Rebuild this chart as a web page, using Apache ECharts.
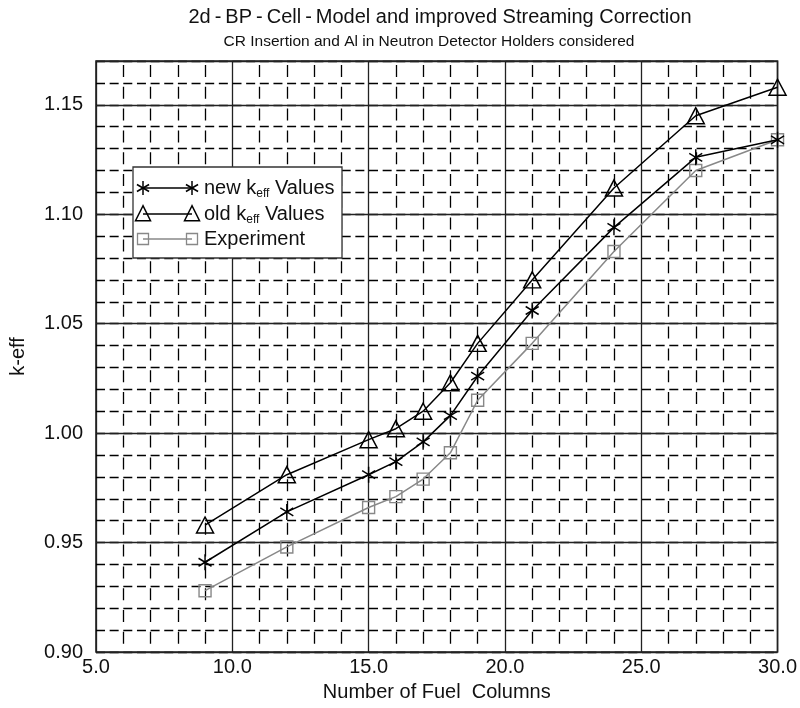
<!DOCTYPE html>
<html>
<head>
<meta charset="utf-8">
<script src="https://cdn.jsdelivr.net/npm/echarts@6/dist/echarts.min.js"></script>
<style>
html,body{margin:0;padding:0;background:#fff;}
#c{width:800px;height:708px;}
</style>
</head>
<body>
<div id="c"></div>
<script>
// ---- data ----
var fuelColumns = [9, 12, 15, 16, 17, 18, 19, 21, 24, 27, 30];
var newKeff     = [0.941, 0.964, 0.981, 0.987, 0.996, 1.008, 1.026, 1.056, 1.094, 1.126, 1.134];
var oldKeff     = [0.958, 0.981, 0.997, 1.002, 1.010, 1.023, 1.041, 1.070, 1.112, 1.145, 1.158];
var experiment  = [0.928, 0.948, 0.966, 0.971, 0.979, 0.991, 1.015, 1.041, 1.083, 1.120, 1.134];
var xTicks = [5, 10, 15, 20, 25, 30];
var yTicks = [0.90, 0.95, 1.00, 1.05, 1.10, 1.15];

function pairs(xs, ys){ return xs.map(function(x,i){ return [x, ys[i]]; }); }

var FONT = '"Liberation Sans", Arial, Helvetica, sans-serif';
var ASTERISK = 'path://M0,-10L0,10M-8.66,-5L8.66,5M-8.66,5L8.66,-5';

function asteriskG(cx, cy, r){
  var c = [];
  [90, 30, -30].forEach(function(a){
    var rad = a*Math.PI/180, dx = r*Math.cos(rad), dy = r*Math.sin(rad);
    c.push({type:'line', shape:{x1:cx-dx, y1:cy-dy, x2:cx+dx, y2:cy+dy}, style:{stroke:'#000', lineWidth:1.5}, z:102});
  });
  return c;
}
function triG(cx, cy, s){
  return {type:'polygon', shape:{points:[[cx, cy-s*0.55],[cx-s/2, cy+s*0.45],[cx+s/2, cy+s*0.45]]}, style:{fill:'none', stroke:'#000', lineWidth:1.5}, z:102};
}
function sqG(cx, cy, s){
  return {type:'rect', shape:{x:cx-s/2, y:cy-s/2, width:s, height:s}, style:{fill:'none', stroke:'#888', lineWidth:1.3}, z:102};
}

var lx1 = 143, lx2 = 192, tx = 204;
var rows = [188, 214, 239];
var richSub = {a:{fontSize:20, fontFamily:FONT, fill:'#111'}, s:{fontSize:12, fontFamily:FONT, fill:'#111', padding:[12,0,0,0]}};
var legendEls = [
  {type:'rect', shape:{x:133, y:167, width:209, height:91}, style:{fill:'#fff', stroke:'#333', lineWidth:1.3}, z:100},
  {type:'line', shape:{x1:lx1, y1:rows[0], x2:lx2, y2:rows[0]}, style:{stroke:'#000', lineWidth:1.4}, z:101},
  {type:'line', shape:{x1:lx1, y1:rows[1], x2:lx2, y2:rows[1]}, style:{stroke:'#000', lineWidth:1.4}, z:101},
  {type:'line', shape:{x1:lx1, y1:rows[2], x2:lx2, y2:rows[2]}, style:{stroke:'#888', lineWidth:1.3}, z:101},
  triG(lx1, rows[1], 15), triG(lx2, rows[1], 15),
  sqG(lx1, rows[2], 11), sqG(lx2, rows[2], 11),
  {type:'text', x:tx, y:rows[0], style:{text:'{a|new k}{s|eff}{a| Values}', verticalAlign:'middle', rich:richSub}, z:101},
  {type:'text', x:tx, y:rows[1], style:{text:'{a|old k}{s|eff}{a| Values}', verticalAlign:'middle', rich:richSub}, z:101},
  {type:'text', x:tx, y:rows[2], style:{text:'Experiment', verticalAlign:'middle', fontSize:20, fontFamily:FONT, fill:'#111'}, z:101}
].concat(asteriskG(lx1, rows[0], 7)).concat(asteriskG(lx2, rows[0], 7));

var chart = echarts.init(document.getElementById('c'), null, {renderer:'canvas'});
chart.setOption({
  backgroundColor:'#fff',
  animation:false,
  textStyle:{fontFamily:FONT},
  grid:{left:96, right:21, top:61, bottom:56, show:true, borderColor:'#222', borderWidth:1.6, backgroundColor:'transparent'},
  graphic:[
    {type:'text', x:440, y:17, style:{text:'2d\u2009-\u2009BP\u2009-\u2009Cell\u2009-\u2009Model and improved Streaming Correction', align:'center', verticalAlign:'middle', fontSize:20, fontFamily:FONT, fill:'#111'}},
    {type:'text', x:429, y:42, style:{text:'CR Insertion and Al in Neutron Detector Holders considered', align:'center', verticalAlign:'middle', fontSize:15.5, fontFamily:FONT, fill:'#111'}}
  ].concat(legendEls),
  xAxis:{
    type:'value', min:5, max:30, interval:5,
    name:'Number of Fuel  Columns', nameLocation:'middle', nameGap:30,
    nameTextStyle:{fontSize:20, color:'#111', fontFamily:FONT},
    axisLine:{show:false}, axisTick:{show:false},
    axisLabel:{fontSize:20, color:'#111', margin:5, formatter:function(v){ return xTicks.indexOf(v)>=0 ? v.toFixed(1) : ''; }},
    splitLine:{show:true, lineStyle:{color:'#222', width:1.3, type:'solid'}},
    minorTick:{show:false, splitNumber:5},
    minorSplitLine:{show:true, lineStyle:{color:'#000', width:1.3, type:[12,9.8], dashOffset:17.8}}
  },
  yAxis:[
    {
      type:'value', min:0.90, max:1.17, interval:0.05,
      name:'k-eff', nameLocation:'middle', nameGap:68, nameRotate:90,
      nameTextStyle:{fontSize:20, color:'#111', fontFamily:FONT},
      axisLine:{show:false}, axisTick:{show:false},
      axisLabel:{fontSize:20, color:'#111', margin:13, showMaxLabel:false,
        formatter:function(v){ var r=Math.round(v*100)/100; return yTicks.some(function(t){return Math.abs(t-r)<1e-6;}) ? r.toFixed(2) : ''; }},
      splitLine:{show:true, lineStyle:{color:'#222', width:1.3, type:'solid'}},
      z:3
    },
    {
      type:'value', min:0.90, max:1.17, interval:0.01, position:'left',
      axisLine:{show:false}, axisTick:{show:false}, axisLabel:{show:false},
      splitLine:{show:true, lineStyle:{color:'#000', width:1.3, type:[9,4.65], dashOffset:0}},
      z:2
    }
  ],
  series:[
    {
      name:'Experiment', type:'line', data:pairs(fuelColumns, experiment), yAxisIndex:0,
      symbol:'rect', symbolSize:12,
      lineStyle:{color:'#888', width:1.5},
      itemStyle:{color:'transparent', borderColor:'#888', borderWidth:1.4},
      z:10
    },
    {
      name:'new keff', type:'line', data:pairs(fuelColumns, newKeff), yAxisIndex:0,
      symbol:ASTERISK, symbolSize:[15,16], symbolKeepAspect:true,
      lineStyle:{color:'#000', width:1.5},
      itemStyle:{color:'transparent', borderColor:'#000', borderWidth:1.5},
      z:11
    },
    {
      name:'old keff', type:'line', data:pairs(fuelColumns, oldKeff), yAxisIndex:0,
      symbol:'triangle', symbolSize:[17,16],
      lineStyle:{color:'#000', width:1.5},
      itemStyle:{color:'transparent', borderColor:'#000', borderWidth:1.5},
      z:12
    }
  ]
});
</script>
</body>
</html>
